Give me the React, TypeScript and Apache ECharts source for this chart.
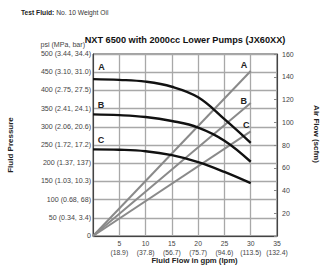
import React, { useEffect, useRef } from "react";
import * as echarts from "echarts";

const flowGpm = [0, 5, 10, 15, 20, 25, 30];
const pressureA = [431, 429, 424, 410, 381, 321, 256];
const pressureB = [334, 332, 327, 316, 298, 262, 204];
const pressureC = [238, 237, 233, 222, 203, 176, 145];
const airEndFlow = 30;
const airA = [0, 145];
const airB = [0, 117];
const airC = [0, 92];
const curveNames = ["A", "B", "C"];
const psiLabels: Record<number, string> = {
  0: "0",
  50: "50 (0.34, 3.4)",
  100: "100 (0.68, 68)",
  150: "150 (1.03, 10.3)",
  200: "200 (1.37, 137)",
  250: "250 (1.72, 17.2)",
  300: "300 (2.06, 20.6)",
  350: "350 (2.41, 24.1)",
  400: "400 (2.75, 27.5)",
  450: "450 (3.10, 31.0)",
  500: "500 (3.44, 34.4)",
};
const gpmLabels: Record<number, string> = {
  5: "5\n(18.9)",
  10: "10\n(37.8)",
  15: "15\n(56.7)",
  20: "20\n(75.7)",
  25: "25\n(94.6)",
  30: "30\n(113.5)",
  35: "35\n(132.4)",
};

const FONT = "Liberation Sans, Arial, sans-serif";

export default function App() {
  const ref = useRef<HTMLDivElement>(null);
  useEffect(() => {
    if (!ref.current) return;
    const chart = echarts.init(ref.current, null, { renderer: "svg" });

    const pressureSeries = [pressureA, pressureB, pressureC].map((vals, si) => {
      const offs = [[8.5, -12.3], [8, -9], [8, -9.3]][si];
      return {
        type: "line",
        yAxisIndex: 0,
        smooth: 0.4,
        symbol: "circle",
        symbolSize: 0.1,
        lineStyle: { color: "#111", width: 2.4 },
        itemStyle: { color: "#111" },
        data: vals.map((v, i) => {
          const item: any = { value: [flowGpm[i], v] };
          if (i === 0) {
            item.label = {
              show: true,
              formatter: curveNames[si],
              position: "inside",
              offset: offs,
              fontFamily: FONT,
              fontWeight: "bold",
              fontSize: 9,
              color: "#222",
            };
          }
          return item;
        }),
      };
    });

    const airSeries = [airA, airB, airC].map((vals, si) => {
      const offs = [[-6.7, -5.7], [-7, -2.3], [-4.5, -6.5]][si];
      return {
        type: "line",
        yAxisIndex: 1,
        symbol: "circle",
        symbolSize: 0.1,
        lineStyle: { color: "#8a8a8a", width: 2 },
        itemStyle: { color: "#8a8a8a" },
        data: [
          { value: [0, vals[0]] },
          {
            value: [airEndFlow, vals[1]],
            label: {
              show: true,
              formatter: curveNames[si],
              position: "inside",
              offset: offs,
              fontFamily: FONT,
              fontWeight: "bold",
              fontSize: 9,
              color: "#222",
            },
          },
        ],
      };
    });

    chart.setOption({
      animation: false,
      grid: {
        left: 93,
        right: 49,
        top: 54,
        bottom: 31,
        show: true,
        borderColor: "#444",
        borderWidth: 1,
      },
      xAxis: {
        type: "value",
        min: 0,
        max: 35,
        interval: 5,
        axisLine: { show: true, onZero: false, lineStyle: { color: "#444", width: 1 } },
        axisTick: { show: false },
        splitLine: { show: true, lineStyle: { color: "#a8a8a8", width: 1.3 } },
        axisLabel: {
          formatter: (v: number) => gpmLabels[v] ?? "",
          fontFamily: FONT,
          fontSize: 6.8,
          color: "#444",
          lineHeight: 9,
          margin: 3,
        },
      },
      yAxis: [
        {
          type: "value",
          min: 0,
          max: 500,
          interval: 50,
          axisLine: { show: true, lineStyle: { color: "#444", width: 1 } },
          axisTick: { show: false },
          splitLine: { show: true, lineStyle: { color: "#a8a8a8", width: 1.3 } },
          axisLabel: {
            formatter: (v: number) => psiLabels[v] ?? "",
            fontFamily: FONT,
            fontSize: 7.1,
            color: "#444",
            margin: 2,
          },
        },
        {
          type: "value",
          min: 0,
          max: 160,
          interval: 20,
          position: "right",
          axisLine: { show: true, lineStyle: { color: "#444", width: 1 } },
          axisTick: { show: true, inside: true, length: 3, lineStyle: { color: "#888" } },
          splitLine: { show: false },
          axisLabel: {
            formatter: (v: number) => (v === 0 ? "" : String(v)),
            fontFamily: FONT,
            fontSize: 7,
            color: "#444",
            margin: 5,
          },
        },
      ],
      graphic: [
        {
          type: "text",
          left: 21,
          top: 9,
          style: {
            text: "{b|Test Fluid:} No. 10 Weight Oil",
            fontFamily: FONT,
            fontSize: 6.7,
            fill: "#333",
            rich: { b: { fontWeight: "bold", fontFamily: FONT, fontSize: 6.7, fill: "#222" } },
          },
        },
        {
          type: "text",
          x: 185,
          y: 40,
          style: {
            text: "NXT 6500 with 2000cc Lower Pumps (JX60XX)",
            fontFamily: FONT,
            fontSize: 9.2,
            fontWeight: "bold",
            fill: "#111",
            align: "center",
            verticalAlign: "middle",
          },
        },
        {
          type: "text",
          x: 85,
          y: 45,
          style: {
            text: "psi (MPa, bar)",
            fontFamily: FONT,
            fontSize: 7.1,
            fill: "#444",
            align: "right",
            verticalAlign: "middle",
          },
        },
        {
          type: "text",
          x: 194.5,
          y: 260.5,
          style: {
            text: "Fluid Flow in gpm (lpm)",
            fontFamily: FONT,
            fontSize: 7.7,
            fontWeight: "bold",
            fill: "#222",
            align: "center",
            verticalAlign: "middle",
          },
        },
        {
          type: "text",
          x: 10,
          y: 145,
          rotation: Math.PI / 2,
          style: {
            text: "Fluid Pressure",
            fontFamily: FONT,
            fontSize: 8,
            fontWeight: "bold",
            fill: "#222",
            align: "center",
            verticalAlign: "middle",
          },
        },
        {
          type: "text",
          x: 316,
          y: 134,
          rotation: -Math.PI / 2,
          style: {
            text: "Air Flow (scfm)",
            fontFamily: FONT,
            fontSize: 8,
            fontWeight: "bold",
            fill: "#222",
            align: "center",
            verticalAlign: "middle",
          },
        },
      ],
      series: [...airSeries, ...pressureSeries],
    });
    return () => chart.dispose();
  }, []);
  return <div ref={ref} style={{ width: 326, height: 267, position: "absolute", left: 0, top: 0, background: "#fff" }} />;
}
